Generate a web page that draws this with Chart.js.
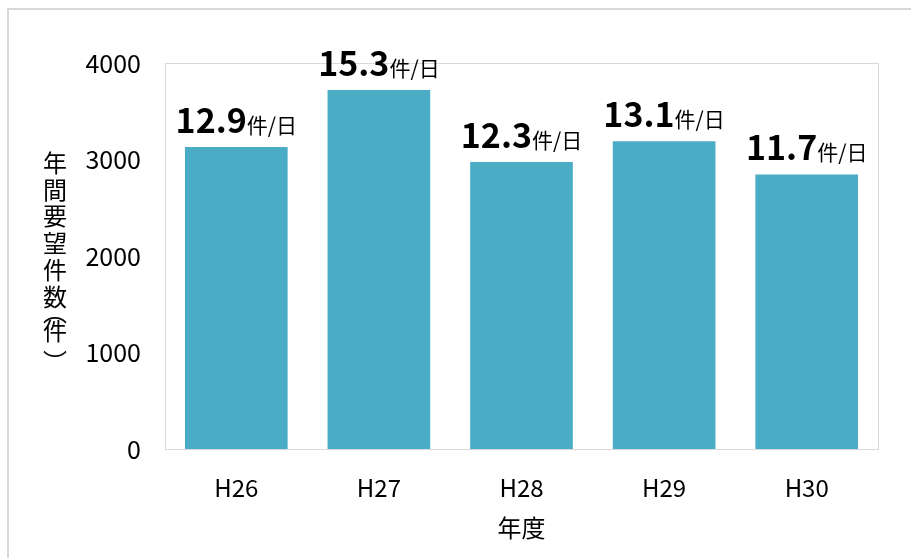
<!DOCTYPE html>
<html>
<head>
<meta charset="utf-8">
<script src="https://cdn.jsdelivr.net/npm/chart.js@4"></script>
<style>
  html, body { margin: 0; padding: 0; background: #fff; overflow: hidden; }
  #frame { position: absolute; left: 7px; top: 8px; width: 1000px; height: 700px; border: 2px solid #d9d9d9; }
  #wrap { position: absolute; left: 0; top: 0; width: 911px; height: 558px; }
</style>
</head>
<body>
<div id="frame"></div>
<div id="wrap"><canvas id="requestChart"></canvas></div>
<script>
const labels = ['H26', 'H27', 'H28', 'H29', 'H30'];
const requests = [3130, 3720, 2975, 3190, 2845];
const perDay = ['12.9', '15.3', '12.3', '13.1', '11.7'];
const yTitle = ['年', '間', '要', '望', '件', '数', '︵', '件', '︶'];
const xTitle = '年度';

const FONT = "'Noto Sans CJK JP', 'Noto Sans', sans-serif";

// box around the plot area
const plotBox = {
    id: 'plotBox',
    beforeDatasetsDraw(chart) {
        const { ctx, chartArea: a } = chart;
        ctx.save();
        ctx.strokeStyle = '#d9d9d9';
        ctx.lineWidth = 1;
        ctx.strokeRect(a.left + 0.5, a.top + 0.5, a.right - a.left, a.bottom - a.top);
        ctx.restore();
    }
};

// "12.9件/日" above each bar
const barLabels = {
    id: 'barLabels',
    afterDatasetsDraw(chart) {
        const { ctx } = chart;
        const meta = chart.getDatasetMeta(0);
        ctx.save();
        ctx.fillStyle = '#000';
        ctx.textBaseline = 'alphabetic';
        ctx.textAlign = 'left';
        meta.data.forEach((bar, i) => {
            ctx.font = 'bold 34px ' + FONT;
            const w1 = ctx.measureText(perDay[i]).width;
            ctx.font = '21px ' + FONT;
            const w2 = ctx.measureText('件/日').width;
            const x0 = bar.x - (w1 + w2) / 2;
            const y = bar.y - 14;
            ctx.font = 'bold 34px ' + FONT;
            ctx.fillText(perDay[i], x0, y);
            ctx.font = '21px ' + FONT;
            ctx.fillText('件/日', x0 + w1, y);
        });
        ctx.restore();
    }
};

// stacked vertical y-axis title (vertical-form brackets sit tight on 件)
const yTitlePos = [163, 190, 216, 243, 270, 297, 312, 331, 362];
const verticalTitle = {
    id: 'verticalTitle',
    afterDraw(chart) {
        const { ctx } = chart;
        ctx.save();
        ctx.fillStyle = '#000';
        ctx.font = '24px ' + FONT;
        ctx.textAlign = 'center';
        ctx.textBaseline = 'middle';
        yTitle.forEach((ch, i) => {
            ctx.fillText(ch, 55, yTitlePos[i]);
        });
        ctx.restore();
    }
};

new Chart(document.getElementById('requestChart'), {
    type: 'bar',
    data: {
        labels: labels,
        datasets: [{
            data: requests,
            backgroundColor: '#4bacc6',
            borderWidth: 0,
            barPercentage: 0.72,
            categoryPercentage: 1
        }]
    },
    options: {
        responsive: true,
        maintainAspectRatio: false,
        animation: false,
        layout: { padding: { left: 0, top: 63, right: 33, bottom: 0 } },
        plugins: {
            legend: { display: false },
            tooltip: { enabled: false }
        },
        scales: {
            x: {
                grid: { display: false, drawTicks: false },
                border: { display: false },
                ticks: { color: '#000', font: { family: FONT, size: 24 }, padding: 24 },
                title: {
                    display: true, text: xTitle, color: '#000',
                    font: { family: FONT, size: 24 }, padding: { top: 0, bottom: 16 }
                },
                afterFit(scale) { scale.height = 109; }
            },
            y: {
                min: 0,
                max: 4000,
                grid: { display: false, drawTicks: false },
                border: { display: false },
                ticks: {
                    stepSize: 1000, color: '#000', font: { family: FONT, size: 25 }, padding: 24,
                    callback: (v) => String(v)
                },
                afterFit(scale) { scale.width = 165; }
            }
        }
    },
    plugins: [plotBox, barLabels, verticalTitle]
});
</script>
</body>
</html>
